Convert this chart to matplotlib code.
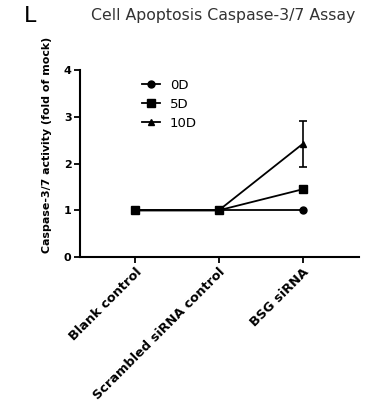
import matplotlib
matplotlib.use("Agg")
import matplotlib.pyplot as plt
from matplotlib.lines import Line2D

groups = ["Blank control", "Scrambled siRNA control", "BSG siRNA"]
series_names = ["0D", "5D", "10D"]
values_0d = [1.0, 1.0, 1.0]
values_5d = [1.0, 1.0, 1.45]
values_10d = [1.0, 1.0, 2.42]
err_0d = [0.0, 0.0, 0.0]
err_5d = [0.02, 0.02, 0.07]
err_10d = [0.02, 0.02, 0.5]
y_ticks = [0, 1, 2, 3, 4]

fig = plt.figure(figsize=(3.77, 4.12), dpi=100)
ax = fig.add_axes([0.212, 0.376, 0.74, 0.454])

x = list(range(len(groups)))
markers = ["o", "s", "^"]
sizes = [5, 6, 5]
handles = []
for name, vals, errs, m, ms in zip(series_names, [values_0d, values_5d, values_10d],
                                   [err_0d, err_5d, err_10d], markers, sizes):
    ax.errorbar(x, vals, yerr=errs, color="black", marker=m, markersize=ms,
                linewidth=1.3, elinewidth=1.2, capsize=3, capthick=1.2)
    handles.append(Line2D([], [], color="black", marker=m, markersize=ms,
                          linewidth=1.3, label=name))

ax.set_xlim(-0.655, 2.67)
ax.set_ylim(0, 4)
ax.set_yticks(y_ticks)
ax.set_yticklabels([str(t) for t in y_ticks], fontweight="bold", fontsize=8)
ax.set_xticks(x)
ax.set_xticklabels(groups, rotation=45, ha="right", rotation_mode="anchor",
                   fontweight="bold", fontsize=9.3)
ax.spines["top"].set_visible(False)
ax.spines["right"].set_visible(False)
ax.spines["left"].set_linewidth(1.5)
ax.spines["bottom"].set_linewidth(1.5)
ax.tick_params(direction="out", width=1.3, length=4, pad=2)
ax.set_ylabel("Caspase-3/7 activity (fold of mock)", fontweight="bold", fontsize=7.9)
ax.yaxis.set_label_coords(-0.10, 0.6)

ax.legend(handles=handles, loc="upper left", bbox_to_anchor=(0.18, 1.015), frameon=False,
          fontsize=9.5, handlelength=1.4, labelspacing=0.45, handletextpad=0.7)

fig.text(0.592, 0.963, "Cell Apoptosis Caspase-3/7 Assay", ha="center", va="center",
         fontsize=11.3, color="#333333")
fig.text(0.08, 0.96, "L", ha="center", va="center", fontsize=16)

fig.savefig("out.png", dpi=100)
